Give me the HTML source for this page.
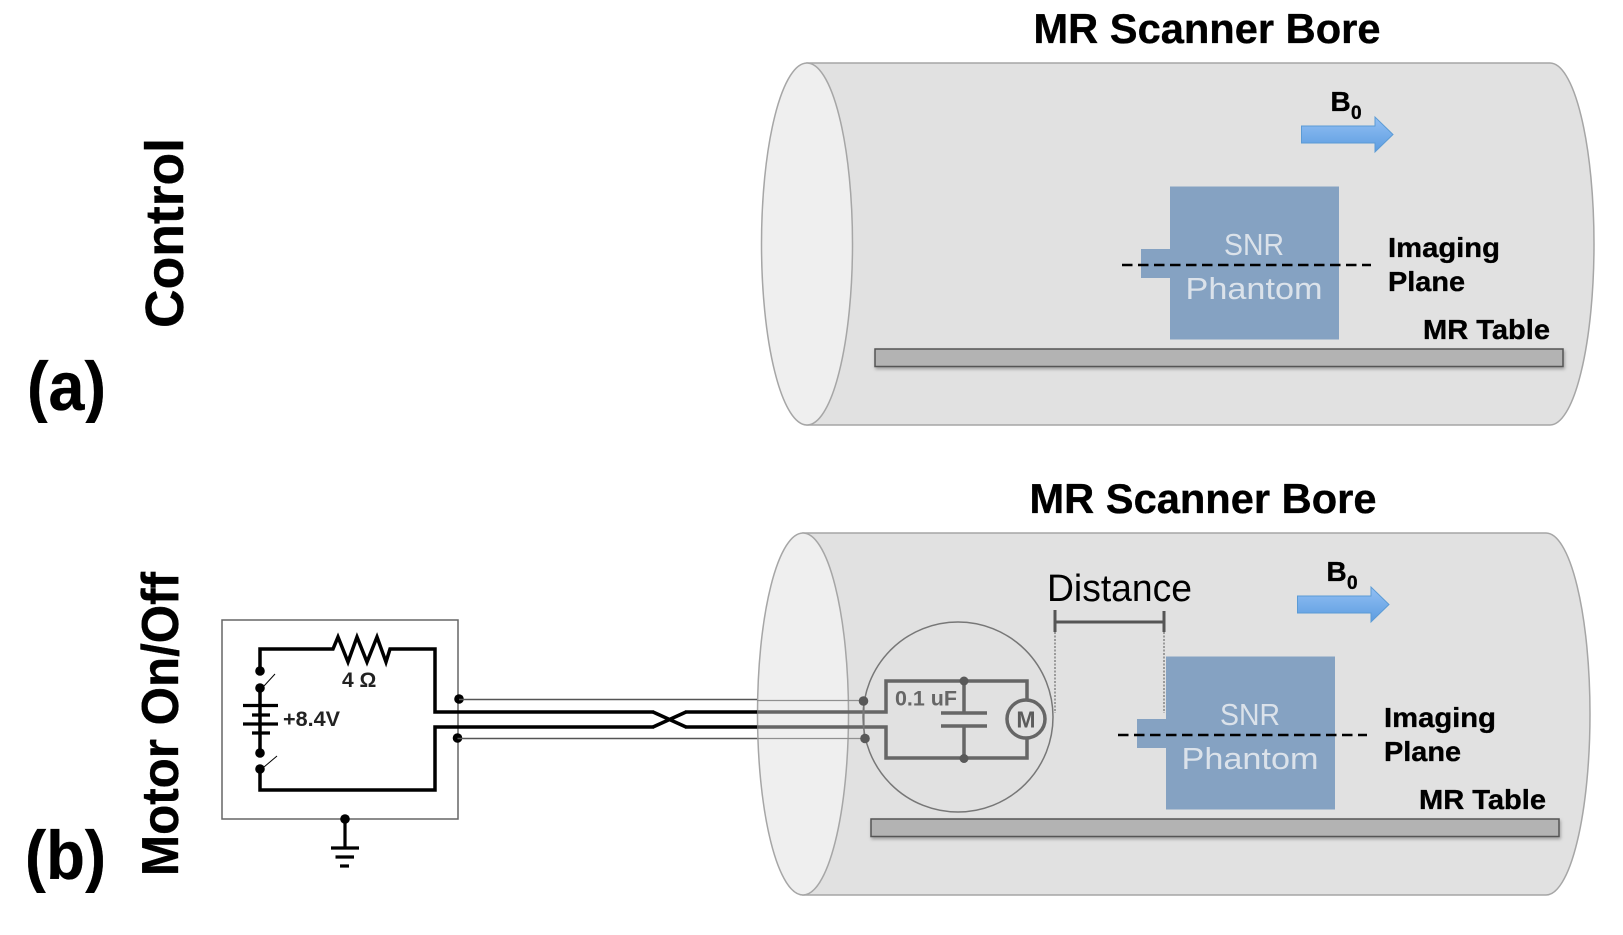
<!DOCTYPE html>
<html><head><meta charset="utf-8"><style>
html,body{margin:0;padding:0;background:#fff;width:1623px;height:935px;overflow:hidden}
svg{display:block}
text{font-family:"Liberation Sans",sans-serif}
.b{font-weight:700;stroke:#000;stroke-width:.35}
</style></head><body>
<svg width="1623" height="935" viewBox="0 0 1623 935" xmlns="http://www.w3.org/2000/svg">
<defs>
<linearGradient id="ag" x1="0" y1="0" x2="0" y2="1"><stop offset="0" stop-color="#93c0f4"/><stop offset="1" stop-color="#5c9ce0"/></linearGradient>
<filter id="sh" x="-2%" y="-30%" width="104%" height="170%"><feDropShadow dx="1" dy="2" stdDeviation="1.5" flood-color="#000" flood-opacity=".3"/></filter>
<clipPath id="ca"><rect x="0" y="358" width="200" height="65"/></clipPath>
<clipPath id="cb"><rect x="0" y="827" width="200" height="66"/></clipPath>
</defs>

<!-- top scanner -->
<g id="top">
<path d="M807 63H1550A44 181 0 0 1 1550 425H807Z" fill="#e1e1e1" stroke="#a6a6a6" stroke-width="1.5"/>
<ellipse cx="807" cy="244" rx="45.5" ry="181" fill="#efefef" stroke="#a6a6a6" stroke-width="1.5"/>
<rect x="875" y="349" width="688" height="17.5" fill="#b3b3b3" stroke="#555" stroke-width="1.5" filter="url(#sh)"/>
<rect x="1170" y="186.5" width="169" height="153" fill="#85a2c2"/>
<rect x="1141" y="249" width="29" height="29" fill="#85a2c2"/>
<path d="M1301.5 126H1375V117L1393 134.5L1375 152V143H1301.5Z" fill="url(#ag)" stroke="#5b9bd5" stroke-width="1"/>
<line x1="1122" y1="265" x2="1371" y2="265" stroke="#000" stroke-width="2.4" stroke-dasharray="10.5 5.5"/>
<text x="1254" y="255" font-size="31" fill="#dbe2ea" text-anchor="middle" textLength="60" lengthAdjust="spacingAndGlyphs">SNR</text>
<text x="1254" y="299" font-size="31" fill="#dbe2ea" text-anchor="middle" textLength="137" lengthAdjust="spacingAndGlyphs">Phantom</text>
<text class="b" x="1330.5" y="111" font-size="28">B</text>
<text class="b" x="1351" y="119" font-size="19">0</text>
<text class="b" x="1388" y="257" font-size="28" textLength="112" lengthAdjust="spacingAndGlyphs">Imaging</text>
<text class="b" x="1388" y="291" font-size="28" textLength="77" lengthAdjust="spacingAndGlyphs">Plane</text>
<text class="b" x="1423" y="339" font-size="28" textLength="127" lengthAdjust="spacingAndGlyphs">MR Table</text>
<text class="b" x="1033.5" y="43" font-size="41.5" textLength="347" lengthAdjust="spacingAndGlyphs">MR Scanner Bore</text>
</g>

<!-- bottom scanner -->
<g transform="translate(-4,470)">
<path d="M807 63H1550A44 181 0 0 1 1550 425H807Z" fill="#e1e1e1" stroke="#a6a6a6" stroke-width="1.5"/>
<ellipse cx="807" cy="244" rx="45.5" ry="181" fill="#efefef" stroke="#a6a6a6" stroke-width="1.5"/>
<rect x="875" y="349" width="688" height="17.5" fill="#b3b3b3" stroke="#555" stroke-width="1.5" filter="url(#sh)"/>
<rect x="1170" y="186.5" width="169" height="153" fill="#85a2c2"/>
<rect x="1141" y="249" width="29" height="29" fill="#85a2c2"/>
<path d="M1301.5 126H1375V117L1393 134.5L1375 152V143H1301.5Z" fill="url(#ag)" stroke="#5b9bd5" stroke-width="1"/>
<line x1="1122" y1="265" x2="1371" y2="265" stroke="#000" stroke-width="2.4" stroke-dasharray="10.5 5.5"/>
<text x="1254" y="255" font-size="31" fill="#dbe2ea" text-anchor="middle" textLength="60" lengthAdjust="spacingAndGlyphs">SNR</text>
<text x="1254" y="299" font-size="31" fill="#dbe2ea" text-anchor="middle" textLength="137" lengthAdjust="spacingAndGlyphs">Phantom</text>
<text class="b" x="1330.5" y="111" font-size="28">B</text>
<text class="b" x="1351" y="119" font-size="19">0</text>
<text class="b" x="1388" y="257" font-size="28" textLength="112" lengthAdjust="spacingAndGlyphs">Imaging</text>
<text class="b" x="1388" y="291" font-size="28" textLength="77" lengthAdjust="spacingAndGlyphs">Plane</text>
<text class="b" x="1423" y="339" font-size="28" textLength="127" lengthAdjust="spacingAndGlyphs">MR Table</text>
<text class="b" x="1033.5" y="43" font-size="41.5" textLength="347" lengthAdjust="spacingAndGlyphs">MR Scanner Bore</text>
</g>

<!-- side labels -->
<text class="b" transform="translate(183,328) rotate(-90)" font-size="54" textLength="190" lengthAdjust="spacingAndGlyphs">Control</text>
<text class="b" transform="translate(178,876) rotate(-90)" font-size="52" textLength="304" lengthAdjust="spacingAndGlyphs">Motor On/Off</text>
<g clip-path="url(#ca)"><text class="b" x="27" y="410" font-size="69" textLength="79" lengthAdjust="spacingAndGlyphs">(a)</text></g>
<g clip-path="url(#cb)"><text class="b" x="25" y="879" font-size="69" textLength="81" lengthAdjust="spacingAndGlyphs">(b)</text></g>

<!-- circuit box -->
<rect x="222" y="620" width="236" height="199" fill="none" stroke="#666" stroke-width="1.5"/>
<g fill="none" stroke="#000" stroke-width="3.5">
<path d="M260 671V649H333L338 637L348 662L357 637L367 662L377 637L386 662L390 649H435V712H757"/>
<path d="M260 688V753M260 769V790H435V727H757"/>
</g>
<g stroke="#000" stroke-width="3.2">
<line x1="243" y1="705.5" x2="278" y2="705.5"/>
<line x1="252" y1="715" x2="270" y2="715"/>
<line x1="243" y1="724" x2="278" y2="724"/>
<line x1="252" y1="733" x2="270" y2="733"/>
<line x1="345" y1="819" x2="345" y2="848"/>
<line x1="331" y1="848" x2="359" y2="848"/>
<line x1="335.5" y1="857" x2="354" y2="857"/>
<line x1="340" y1="866" x2="349" y2="866"/>
</g>
<g stroke="#000" stroke-width="1">
<line x1="264" y1="686" x2="275" y2="674"/>
<line x1="264" y1="767" x2="277" y2="756"/>
</g>
<g fill="#000">
<circle cx="260" cy="671" r="4.8"/><circle cx="260" cy="688" r="4.8"/>
<circle cx="260" cy="753" r="4.8"/><circle cx="260" cy="769" r="4.8"/>
<circle cx="345" cy="819" r="4.8"/><circle cx="459" cy="699" r="4.8"/><circle cx="457.5" cy="738" r="4.8"/>
</g>
<text x="342" y="687" font-size="21" font-weight="700" fill="#222">4 Ω</text>
<text x="283" y="726" font-size="21" font-weight="700" fill="#222" textLength="57" lengthAdjust="spacingAndGlyphs">+8.4V</text>

<!-- thin lines -->
<path d="M459 699.5H757M457.5 738.5H757" stroke="#555" stroke-width="1.5" fill="none"/>

<!-- in-bore wires -->
<g fill="none" stroke="#909090" stroke-width="1.3">
<path d="M757 700.5H863M757 738.5H865"/>
</g>
<g fill="none" stroke="#666" stroke-width="3.5">
<path d="M757 712H886V681H1027V700M1027 738V758H886V727H757"/>
<path d="M964 681V713M964 726V758.5"/>
<path d="M941 713H987M941 726H987"/>
</g>
<path d="M864 701V738" stroke="#777" stroke-width="1.2" fill="none"/>
<circle cx="958" cy="717" r="95" fill="none" stroke="#777" stroke-width="1.5"/>
<circle cx="1026" cy="719" r="19" fill="none" stroke="#666" stroke-width="3.5"/>
<g fill="#595959">
<circle cx="964" cy="681" r="4.5"/><circle cx="964" cy="758.5" r="4.5"/>
<circle cx="863.5" cy="701" r="4.8"/><circle cx="865" cy="738.5" r="4.8"/>
</g>
<text x="1026" y="727.5" font-size="23" font-weight="700" fill="#5c5c5c" text-anchor="middle">M</text>
<text x="895" y="705.5" font-size="21.5" font-weight="700" fill="#666" textLength="62" lengthAdjust="spacingAndGlyphs">0.1 uF</text>

<!-- Distance -->
<text x="1047" y="601" font-size="38" fill="#000" textLength="145" lengthAdjust="spacingAndGlyphs">Distance</text>
<g stroke="#555" stroke-width="3" fill="none"><path d="M1055 610V632M1164 611V632M1055 622H1164"/></g>
<g stroke="#555" stroke-width="1" stroke-dasharray="2 1.5" fill="none"><path d="M1055 632V713M1164 632V713"/></g>

<!-- crossover -->
<rect x="654" y="706" width="31" height="27" fill="#fff"/>
<path d="M653 712L686 727M653 727L686 712" stroke="#000" stroke-width="3.5" fill="none"/>
</svg>
</body></html>
